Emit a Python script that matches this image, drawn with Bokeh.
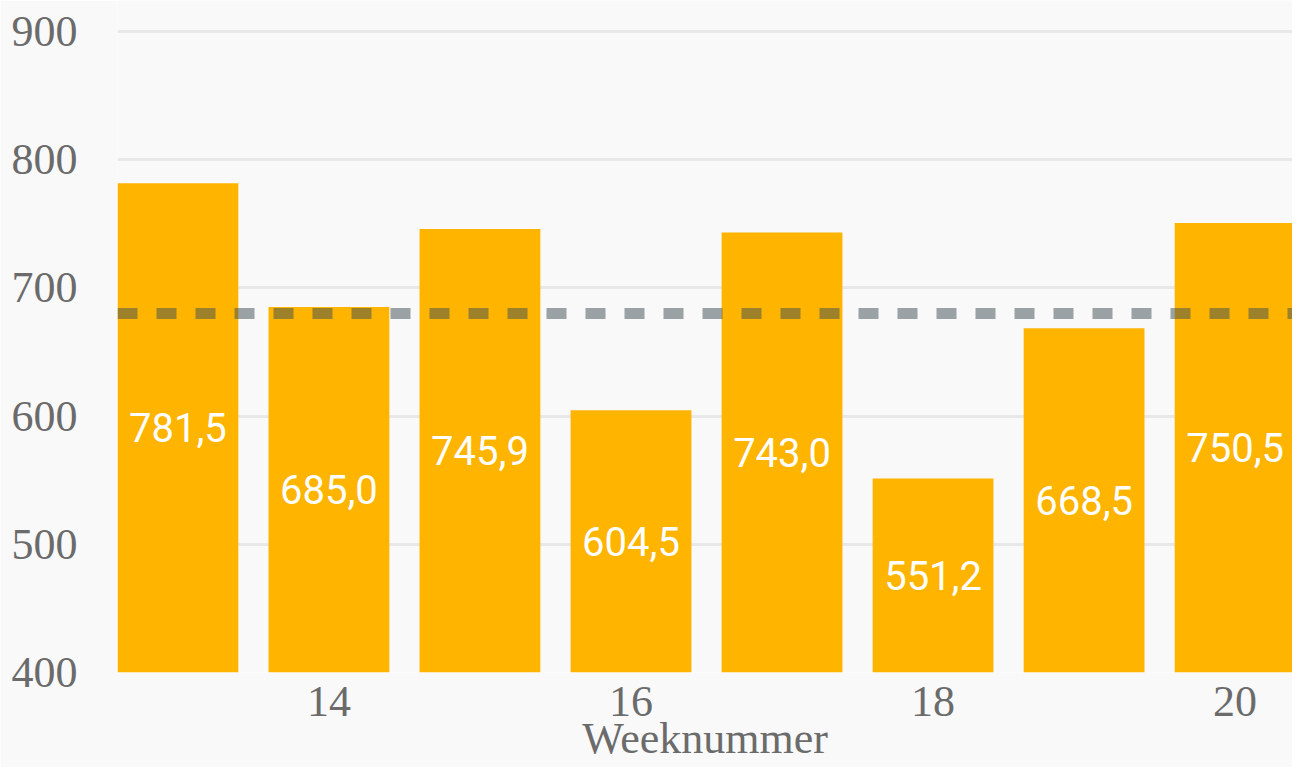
from bokeh.plotting import figure
from bokeh.models import Span, Range1d, FixedTicker, ColumnDataSource
from bokeh.core.properties import value
from bokeh.embed import file_html
from bokeh.resources import INLINE

weeks = [13, 14, 15, 16, 17, 18, 19, 20]
values = [781.5, 685.0, 745.9, 604.5, 743.0, 551.2, 668.5, 750.5]
average = 680.0
base = 400
y_ticks = [400, 500, 600, 700, 800, 900]
x_ticks = [14, 16, 18, 20]
x_title = "Weeknummer"

labels = [f"{v:.1f}".replace(".", ",") for v in values]
mids = [(v + base) / 2 for v in values]
src = ColumnDataSource(dict(week=weeks, val=values, mid=mids, label=labels))

BG = "#f9f9f9"
TXT = "#6b6b6b"
X0, X1 = 12.6, 20.38

p = figure(width=1292, height=767, output_backend="svg", toolbar_location=None,
           x_range=Range1d(X0, X1), y_range=Range1d(400, 924),
           min_border_left=117, min_border_right=0, min_border_top=0,
           min_border_bottom=95,
           background_fill_color=BG, border_fill_color=BG,
           outline_line_color=None)

p.vbar(x="week", top="val", bottom=base, width=0.8, source=src,
       fill_color="#FFB400", line_color=None)

p.text(x="week", y="mid", text="label", source=src, text_color="white",
       text_font=value("Roboto"), text_font_size="40px",
       text_align="center", text_baseline="middle")

p.add_layout(Span(location=average, dimension="width", line_color="#3b4b54",
                  line_alpha=0.5, line_width=11, line_dash="20 19"))

p.xgrid.visible = False
p.ygrid.grid_line_color = "#e8e8e8"
p.ygrid.grid_line_width = 3

p.xaxis.ticker = FixedTicker(ticks=x_ticks)
p.yaxis.ticker = FixedTicker(ticks=y_ticks)
for ax in (p.xaxis, p.yaxis):
    ax.axis_line_color = None
    ax.major_tick_line_color = None
    ax.minor_tick_line_color = None
    ax.major_label_text_font = "Liberation Serif"
    ax.major_label_text_font_size = "44px"
    ax.major_label_text_color = TXT
p.yaxis.major_label_standoff = 34
p.xaxis.major_label_standoff = 8
p.xaxis.axis_label = x_title
p.xaxis.axis_label_text_font = "Liberation Serif"
p.xaxis.axis_label_text_font_size = "44px"
p.xaxis.axis_label_text_font_style = "normal"
p.xaxis.axis_label_text_color = TXT
p.xaxis.axis_label_standoff = -5

open("out.html", "w").write(file_html(p, INLINE))
